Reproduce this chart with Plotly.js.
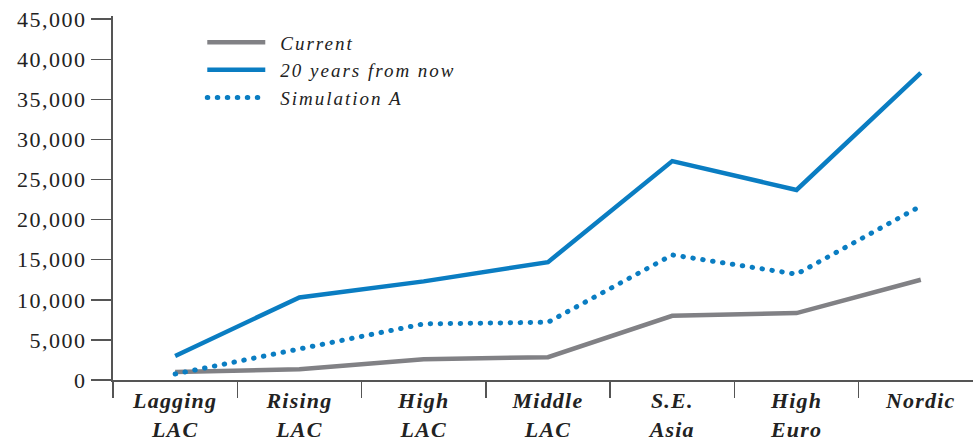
<!DOCTYPE html>
<html>
<head>
<meta charset="utf-8">
<script src="https://cdn.plot.ly/plotly-3.0.1.min.js"></script>
<style>
html,body{margin:0;padding:0;background:#fff;}
#chart{width:976px;height:443px;}
.ytick text{letter-spacing:1.5px;}
.xtick text{letter-spacing:1.2px;}
.legendtext{letter-spacing:2px;}
</style>
</head>
<body>
<div id="chart"></div>
<script>
const categories = ["Lagging<br>LAC", "Rising<br>LAC", "High<br>LAC", "Middle<br>LAC", "S.E.<br>Asia", "High<br>Euro", "Nordic"];
const currentValues = [1000, 1350, 2600, 2850, 8000, 8350, 12500];
const future20Values = [3000, 10300, 12300, 14700, 27300, 23700, 38300];
const simulationAValues = [750, 3900, 7000, 7200, 15600, 13200, 21700];
const seriesNames = ["Current", "20 years from now", "Simulation A"];

const serif = "'Liberation Serif', 'DejaVu Serif', serif";
const blue = "#0a7dc2";
const gray = "#818185";
const axisColor = "#555555";

const traces = [
  {x: categories, y: currentValues, name: seriesNames[0], type: "scatter", mode: "lines",
   line: {color: gray, width: 4.5}},
  {x: categories, y: future20Values, name: seriesNames[1], type: "scatter", mode: "lines",
   line: {color: blue, width: 4.5}},
  {x: categories, y: simulationAValues, name: seriesNames[2], type: "scatter", mode: "lines",
   line: {color: blue, width: 5, dash: "0.5px,9.5px"}}
];

const layout = {
  width: 976, height: 443,
  margin: {l: 113, r: 3, t: 16, b: 63},
  paper_bgcolor: "#fff", plot_bgcolor: "#fff",
  showlegend: true,
  legend: {x: 0.148, y: 0.98, xanchor: "left", yanchor: "top",
           font: {family: serif, size: 19, color: "#222", style: "italic"}, bgcolor: "rgba(0,0,0,0)",
           tracegroupgap: 0},
  xaxis: {
    type: "category", range: [-0.5, 6.42],
    showline: true, linecolor: axisColor, linewidth: 2,
    ticks: "outside", tickson: "boundaries", ticklen: 16, tickwidth: 1.5, tickcolor: axisColor,
    showgrid: false, zeroline: false,
    tickfont: {family: serif, size: 22, color: "#222", weight: "bold", style: "italic"},
    ticklabelstandoff: 0
  },
  yaxis: {
    range: [0, 45400], tickvals: [0,5000,10000,15000,20000,25000,30000,35000,40000,45000],
    tickformat: ",d",
    showline: true, linecolor: axisColor, linewidth: 2,
    ticks: "outside", ticklen: 20, tickwidth: 1.5, tickcolor: axisColor,
    showgrid: false, zeroline: false,
    tickfont: {family: serif, size: 22, color: "#222"}
  }
};

Plotly.newPlot("chart", traces, layout, {staticPlot: true}).then(function(gd){
  const tr = gd.querySelectorAll(".scatterlayer .trace");
  if (tr[2]) tr[2].querySelectorAll("path.js-line").forEach(p => p.style.strokeLinecap = "round");
  gd.querySelectorAll(".legend [clip-path]").forEach(el => el.removeAttribute("clip-path"));
  const lg = gd.querySelectorAll(".legend .traces");
  lg.forEach(function(g, i){
    g.querySelectorAll("path.js-line").forEach(function(p){
      p.setAttribute("d", "M-33,0h58");
      if (i === 2) p.style.strokeLinecap = "round";
    });
  });
});
</script>
</body>
</html>
